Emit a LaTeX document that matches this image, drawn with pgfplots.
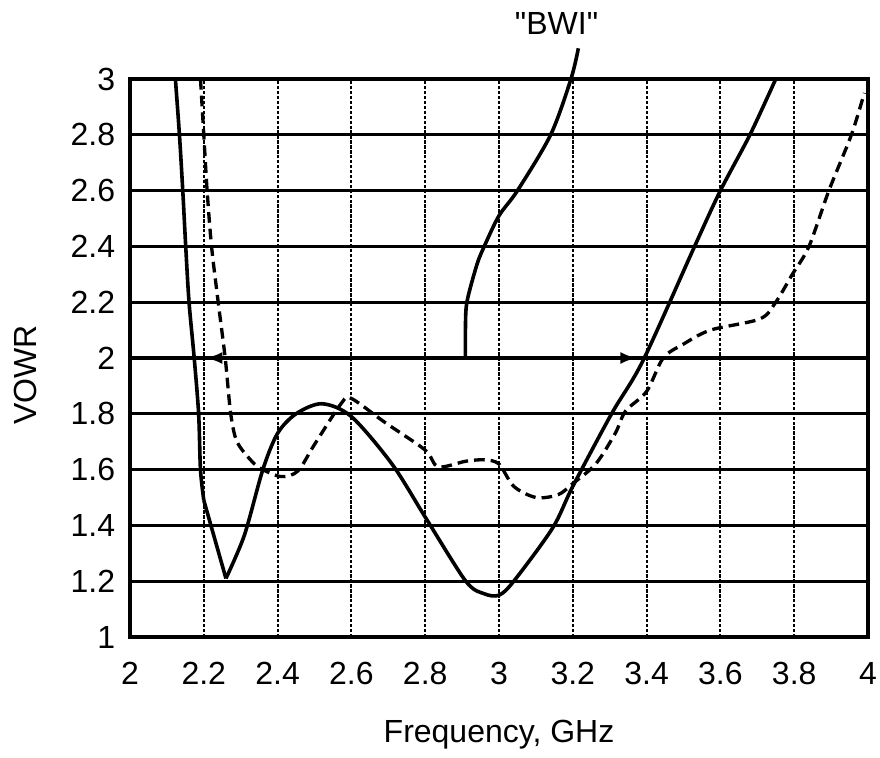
\documentclass[border=0pt]{standalone}
\usepackage{fontspec}
\setmainfont{Liberation Sans}
\newfontfamily\plainfont{Liberation Sans}
\usepackage{pgfplots}
\pgfplotsset{compat=1.18}
\usetikzlibrary{arrows.meta}
\begin{document}
\fontsize{24}{28}\selectfont
\begin{tikzpicture}
\begin{axis}[name=ax, scale only axis, width=553.5pt, height=418.5pt,
  xmin=2, xmax=4, ymin=1, ymax=3, clip=false,
  xtick={2,2.2,2.4,2.6,2.8,3,3.2,3.4,3.6,3.8,4},
  ytick={1,1.2,1.4,1.6,1.8,2,2.2,2.4,2.6,2.8,3},
  major tick length=0pt,
  grid=major,
  x grid style={black, line width=1.6pt, dash pattern=on 2.5pt off 1.2pt},
  y grid style={black, line width=2.4pt, solid},
  axis line style={line width=2.6pt},
  tick label style={font=\fontsize{24}{24}\selectfont},
  /pgf/number format/assume math mode=true,
  xticklabel style={yshift=-11pt},
  yticklabel style={xshift=-3pt},
  xlabel={Frequency, GHz}, ylabel={VOWR},
  every axis x label/.style={at={(axis description cs:0.5,-0.129)}, anchor=north, font=\fontsize{24}{24}\selectfont},
  every axis y label/.style={at={(axis description cs:-0.1115,0.47)}, rotate=90, anchor=south, font=\fontsize{24}{24}\selectfont},
]
% main solid curve
\addplot[black, line width=2.7pt, smooth] coordinates {
(2.123,3.0)(2.134,2.8)(2.143,2.6)(2.151,2.4)(2.16,2.2)(2.174,2.0)(2.186,1.8)(2.191,1.6)(2.2,1.49)};
\addplot[black, line width=2.7pt] coordinates {(2.2,1.49)(2.26,1.21)};
\addplot[black, line width=2.7pt, smooth] coordinates {
(2.26,1.21)(2.31,1.365)(2.36,1.6)(2.4,1.73)(2.45,1.80)(2.52,1.836)(2.6,1.79)(2.71,1.62)(2.8,1.43)(2.91,1.2)(2.96,1.155)(3.0,1.15)(3.04,1.2)(3.145,1.39)(3.2,1.54)(3.305,1.8)(3.39,1.99)(3.53,2.4)(3.6,2.6)(3.68,2.8)(3.75,3.0)};
% dashed curve
\addplot[black, line width=2.5pt, dash pattern=on 8pt off 4.5pt, smooth] coordinates {
(2.191,3.0)(2.2,2.8)(2.209,2.6)(2.221,2.4)(2.239,2.2)(2.258,2.0)(2.273,1.8)(2.29,1.70)(2.33,1.63)(2.36,1.60)(2.41,1.575)(2.455,1.595)(2.50,1.69)(2.574,1.84)(2.6,1.855)(2.69,1.77)(2.8,1.67)(2.835,1.61)(2.91,1.63)(2.96,1.635)(3.0,1.62)(3.04,1.54)(3.1,1.50)(3.16,1.51)(3.2,1.55)(3.262,1.62)(3.315,1.73)(3.343,1.81)(3.4,1.88)(3.445,2.0)(3.5,2.05)(3.573,2.1)(3.707,2.14)(3.75,2.2)(3.795,2.3)(3.84,2.4)(3.894,2.6)(3.955,2.8)(3.99,2.95)};
% BWI curve
\addplot[black, line width=2.7pt, smooth] coordinates {
(2.909,2.0)(2.909,2.1)(2.913,2.2)(2.94,2.334)(2.96,2.4)(3.0,2.51)(3.05,2.6)(3.14,2.8)(3.195,3.0)(3.215,3.11)};
% bandwidth arrows
\addplot[black, line width=1.5pt, -{Latex[length=12pt,width=9pt]}] coordinates {(2.26,2)(2.207,2)};
\addplot[black, line width=1.5pt, -{Latex[length=12pt,width=9pt]}] coordinates {(3.31,2)(3.372,2)};
\node[anchor=base, font=\plainfont\fontsize{24}{24}\selectfont] at (axis cs:3.156,3) [yshift=33pt] {"BWI"};
\end{axis}
\pgfresetboundingbox
\path[use as bounding box] ([shift={(-97.5pt,-90pt)}]ax.south west) rectangle ([shift={(9pt,59.25pt)}]ax.north east);
\end{tikzpicture}
\end{document}
